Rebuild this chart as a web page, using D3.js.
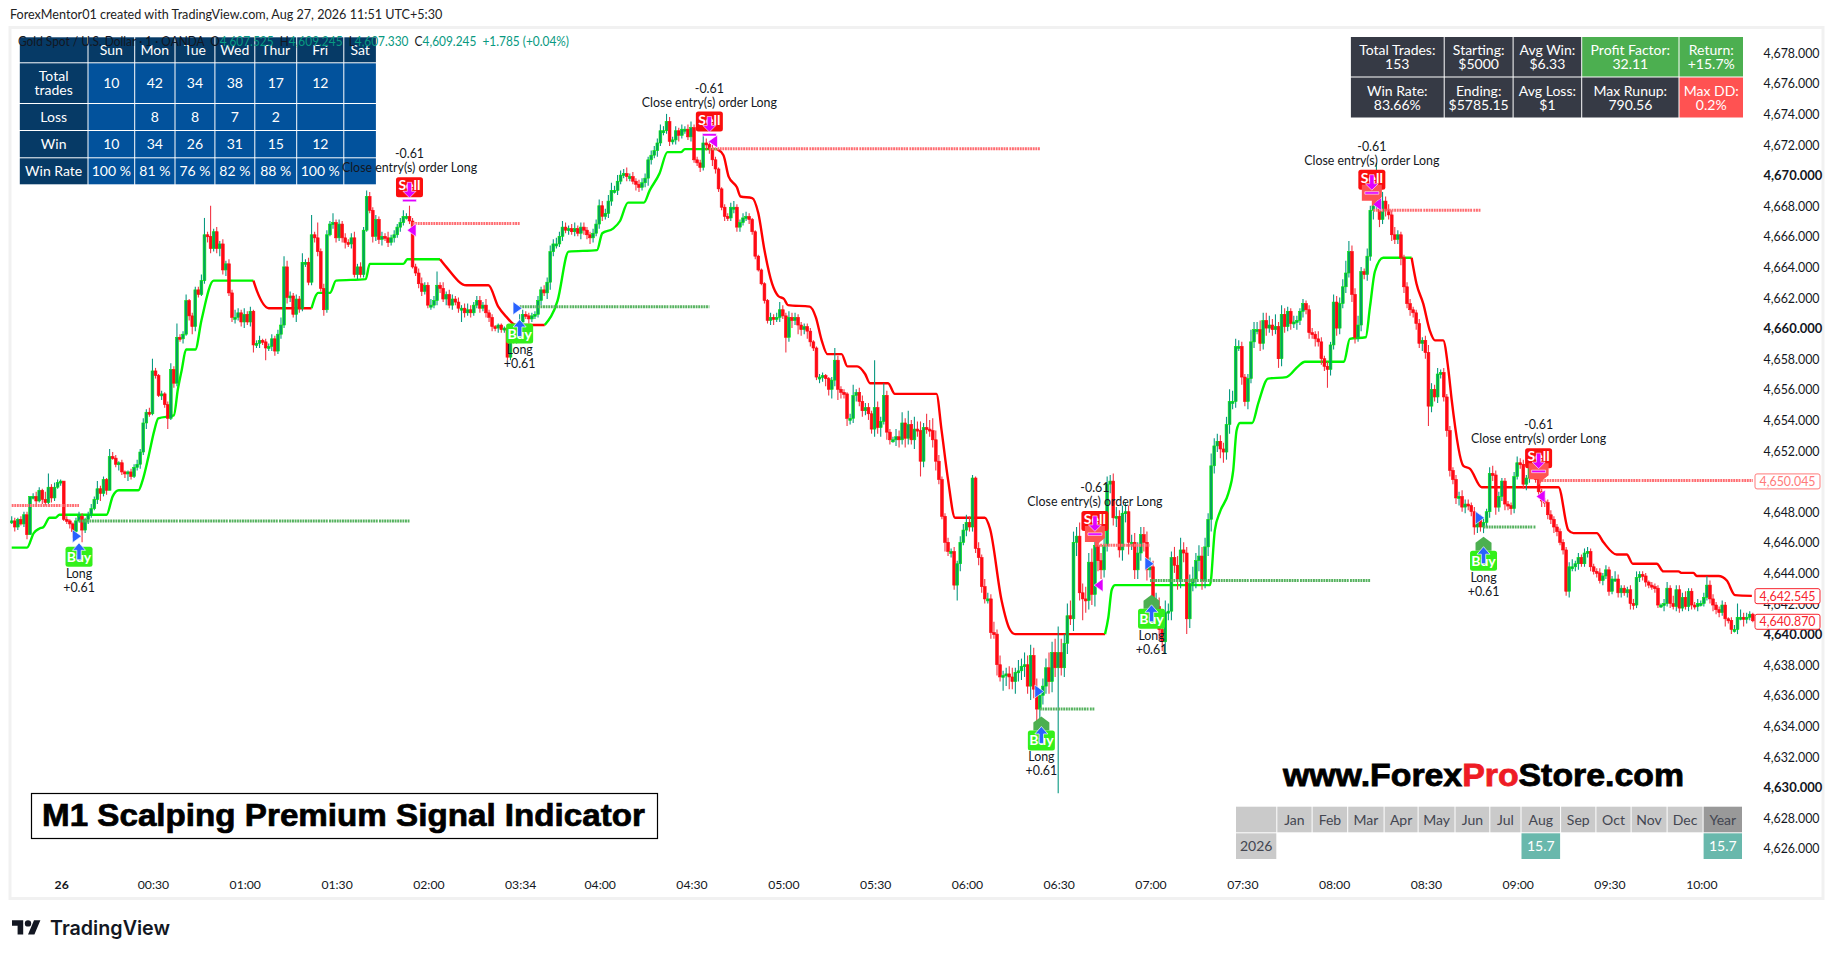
<!DOCTYPE html>
<html>
<head>
<meta charset="utf-8">
<title>M1 Scalping Premium Signal Indicator</title>
<script src="https://cdn.jsdelivr.net/npm/d3@7"></script>
<style>
	html, body { margin: 0; padding: 0; background: #fff; overflow: hidden; }
	text { font-family: Lato, "Noto Sans", sans-serif; }
</style>
</head>
<body>
<svg id="chart" width="1835" height="958"></svg>
<script>
// prices are stored as offset from this base
const basePrice = 4600;

// close of every 1 minute bar, open is taken from the previous close
const closes = [
	47.4,47.0,47.5,47.2,47.8,46.5,49.0,49.0,48.7,49.4,
	48.8,48.6,49.6,48.9,49.6,49.9,50.0,47.5,47.4,47.2,
	46.7,47.4,47.7,46.8,47.5,47.8,48.2,48.8,49.5,49.2,
	50.1,49.4,51.6,51.5,51.1,51.2,50.6,50.5,50.6,50.3,
	50.9,51.1,51.9,53.8,54.5,54.4,57.2,56.9,55.6,55.7,
	55.0,54.1,57.3,56.4,59.4,59.3,59.6,61.8,60.8,60.1,
	62.5,62.2,63.1,66.1,66.0,65.2,66.3,65.2,65.5,63.8,
	64.2,62.3,60.7,60.7,61.0,60.4,60.9,60.4,61.1,58.9,
	59.0,59.2,59.1,58.7,58.8,59.3,58.5,59.6,60.2,64.0,
	62.0,62.1,60.9,61.9,61.3,64.3,64.3,63.0,66.1,65.9,
	65.0,62.6,61.2,66.1,66.8,66.9,65.9,66.8,65.9,65.6,
	65.5,65.9,63.5,64.0,63.5,66.4,68.6,67.7,66.0,67.1,
	65.8,66.0,65.9,65.6,65.9,66.1,66.6,66.9,67.3,67.3,
	67.0,64.0,63.6,62.9,62.4,62.8,61.5,61.5,61.8,62.8,
	62.6,61.9,62.2,61.5,61.9,61.7,61.3,61.3,61.0,61.2,
	61.0,61.5,61.8,61.3,61.5,61.0,60.7,60.1,60.0,60.2,
	59.9,60.0,58.1,59.4,59.2,59.6,60.4,60.9,60.8,60.6,
	60.8,60.9,61.8,62.5,62.3,63.0,65.0,65.5,65.5,66.0,
	66.6,66.4,66.5,66.3,66.5,66.2,66.6,66.4,66.1,65.9,
	66.2,66.8,68.0,67.3,67.5,68.3,69.0,69.0,69.6,70.0,
	70.1,69.9,69.9,69.6,69.4,69.2,69.5,69.8,71.0,71.3,
	71.6,72.1,72.9,72.9,73.5,72.2,72.3,72.9,72.6,73.0,
	73.0,72.5,73.1,71.0,70.8,70.5,72.1,72.0,71.7,71.0,
	70.4,69.1,67.9,67.3,67.2,67.9,67.9,66.6,66.9,67.2,
	67.3,67.1,66.3,64.7,63.8,62.9,61.8,60.5,60.7,60.6,
	60.7,61.2,60.8,59.4,60.7,60.5,60.7,60.2,59.9,60.1,
	59.8,59.1,58.7,56.8,56.8,56.9,56.7,56.0,56.6,57.9,
	56.0,55.8,55.7,54.1,54.1,55.6,55.8,55.2,54.6,54.8,
	54.4,53.4,54.8,53.5,53.9,55.6,53.2,52.7,52.7,52.9,
	52.7,53.8,52.8,53.7,52.7,53.4,53.3,51.3,53.5,53.4,
	53.3,52.7,51.3,50.1,47.7,46.0,45.4,45.4,43.2,44.6,
	46.0,46.8,47.3,47.0,50.2,45.6,45.0,43.1,42.3,42.3,
	40.1,40.0,38.0,37.2,37.3,37.4,37.2,36.9,37.5,37.6,
	37.9,38.0,36.6,38.6,36.4,35.1,36.0,36.6,37.8,36.9,
	38.8,37.8,38.8,37.8,39.4,41.2,41.0,46.0,46.4,42.7,
	42.3,42.2,44.7,42.6,45.8,44.8,44.2,45.8,49.8,50.0,
	47.6,47.7,45.5,47.9,48.0,46.0,46.0,44.2,45.3,46.5,
	46.0,44.2,44.4,41.6,41.8,40.3,39.5,41.4,41.5,45.0,
	44.5,43.6,45.5,45.3,41.0,43.3,43.6,44.8,45.1,43.5,
	45.7,47.5,51.0,52.3,52.6,52.1,51.9,53.7,55.2,55.2,
	58.8,58.8,56.8,55.2,56.7,59.1,59.9,59.9,59.0,60.5,
	60.0,60.2,59.9,60.1,58.0,60.9,60.1,61.1,60.3,60.4,
	60.5,61.1,61.6,61.2,59.7,59.6,59.3,59.1,58.0,57.5,
	57.3,58.9,61.7,60.0,61.6,62.7,63.6,65.0,62.2,59.4,
	60.2,63.7,63.5,64.7,67.7,68.0,69.7,67.1,68.3,67.7,
	67.4,66.1,65.8,66.1,64.6,62.7,61.6,61.2,61.0,60.3,
	59.0,59.2,58.4,54.9,56.0,55.5,57.0,57.1,55.5,53.3,
	50.7,50.1,48.9,49.0,48.3,48.5,48.4,48.0,47.0,47.6,
	47.0,47.3,48.0,50.5,50.4,48.3,49.0,50.0,48.5,48.4,
	48.2,50.3,51.2,51.1,49.8,50.2,51.3,50.5,50.1,49.3,
	48.7,48.6,47.8,47.5,47.0,46.7,46.0,45.5,42.8,44.4,
	44.4,44.6,45.0,44.6,45.3,45.4,44.4,44.1,44.0,43.5,
	43.8,44.2,42.8,43.6,43.6,42.7,43.0,42.7,42.9,42.0,
	41.9,43.7,43.9,43.8,43.4,43.2,43.1,43.0,41.9,41.9,
	42.0,43.0,42.0,41.8,42.9,41.7,42.4,41.8,42.8,41.9,
	41.8,42.0,42.0,42.4,43.2,42.3,41.9,41.6,41.4,41.9,
	41.0,40.9,40.3,40.3,41.1,41.1,41.0,41.1,41.3,40.87
];
// upper and lower wick length per bar, in tenths of a dollar
const wickUp = [
	3,2,1,2,2,2,0,2,3,2, 1,5,9,2,3,2,1,0,2,1, 1,2,3,2,1,2,3,2,5,2, 2,1,5,3,2,1,2,1,1,2,
	2,3,2,3,2,3,8,2,1,2, 1,2,4,2,9,2,2,4,1,2, 2,2,4,11,2,20,2,3,2,3, 2,3,2,5,3,2,4,2,3,1,
	2,3,1,2,2,3,2,3,5,7, 4,3,2,3,2,6,2,3,13,2, 10,2,3,3,2,6,2,3,2,3, 2,3,4,2,3,2,4,3,2,3,
	2,3,2,4,2,3,2,3,4,2, 7,2,2,3,4,2,2,4,3,9, 2,4,2,3,3,2,3,2,3,4, 3,2,3,3,2,4,2,2,1,1,
	1,1,2,2,3,2,5,3,2,2, 2,2,3,2,3,3,4,3,4,3, 4,3,2,3,4,2,3,3,2,2, 3,3,4,3,3,4,5,3,4,3,
	3,4,2,3,2,3,3,3,2,3, 3,3,4,3,5,3,2,3,2,3, 2,3,4,2,2,2,5,3,2,3, 2,1,1,2,2,3,4,2,2,3,
	3,2,1,1,1,1,1,1,3,2, 3,5,3,2,4,3,3,2,2,2, 2,2,1,1,2,2,1,1,2,8, 3,2,2,1,3,7,2,3,4,3,
	3,2,31,4,3,8,3,2,2,5, 4,7,3,9,3,8,5,6,3,9, 6,8,6,4,2,2,3,2,3,2, 4,4,5,4,2,1,4,2,5,4,
	3,7,3,6,3,4,5,6,3,7, 5,8,6,7,5,7,4,5,6,10, 7,9,17,9,6,8,10,7,6,9, 6,8,6,9,7,8,5,6,5,4,
	5,6,4,5,6,4,5,6,7,5, 5,7,6,4,9,6,5,8,5,4, 7,6,8,5,4,6,8,5,7,6, 6,4,8,5,5,4,4,5,8,7,
	5,4,3,2,3,8,5,5,6,5, 5,6,4,8,3,6,4,3,2,4, 3,2,3,2,3,3,2,5,3,2, 3,2,5,4,4,5,8,7,4,4,
	6,3,2,5,3,5,11,4,6,3, 4,3,5,3,2,2,3,3,2,2, 3,2,3,5,4,3,4,2,3,2, 3,2,3,3,4,3,3,2,3,2,
	2,3,2,4,5,3,3,2,2,2, 2,3,4,3,3,2,3,4,3,2, 2,2,2,3,2,2,2,2,2,3, 5,2,3,2,3,3,2,2,2,3,
	2,3,2,2,5,3,2,2,2,3, 3,4,2,2,2,1,2,2,2,1, 3,4,2,5,3,3,3,4,2,2, 2,3,2,3,6,3,3,2,2,3,
	2,1,2,3,9,5,3,3,2,1
];
const wickDown = [
	2,3,2,1,2,3,0,2,2,1, 3,2,1,3,2,1,2,1,2,3, 4,2,1,8,2,3,2,1,3,5, 2,3,0,1,2,4,2,3,5,2,
	1,2,3,2,4,2,1,2,1,3, 2,7,1,3,2,2,3,1,3,5, 3,2,1,2,4,3,2,3,5,3, 4,2,3,4,2,3,4,2,3,5,
	2,3,2,8,2,3,3,2,3,2, 4,3,2,5,3,2,3,2,2,3, 3,2,4,2,1,3,3,2,3,4, 2,3,2,3,2,2,1,2,4,3,
	3,4,2,3,2,3,2,3,2,2, 2,1,2,3,3,2,2,3,2,3, 3,2,4,2,3,2,3,9,3,2, 3,2,2,3,2,3,3,3,2,3,
	2,2,2,2,2,2,2,3,2,3, 2,2,2,3,2,4,5,3,3,2, 3,2,3,2,3,2,4,3,3,4, 3,2,3,3,2,3,3,2,3,2,
	2,3,3,2,4,3,2,3,5,3, 2,4,2,3,2,3,2,3,4,2, 3,2,3,2,2,3,2,4,3,4, 3,2,2,3,2,2,4,3,3,2,
	2,3,2,2,1,1,2,2,3,4, 2,3,2,10,3,5,3,6,4,3, 5,3,2,2,4,3,5,4,6,4, 7,4,3,5,4,3,4,3,4,3,
	4,3,5,4,6,2,5,3,2,4, 5,3,6,4,3,6,4,10,4,3, 4,5,6,3,2,6,3,4,3,10, 5,2,4,3,3,3,5,4,3,3,
	4,3,7,3,9,7,8,5,8,6, 6,7,5,9,6,13,7,6,5,8, 7,6,82,5,6,7,4,8,9,5, 14,8,6,7,8,7,6,5,4,6,
	5,6,5,7,6,8,5,6,6,5, 6,7,5,9,7,6,6,8,5,6, 5,7,6,6,10,6,5,6,7,6, 5,6,8,5,4,6,7,5,6,5,
	4,3,5,3,5,3,4,3,5,4, 5,3,4,3,6,5,4,3,4,3, 5,3,4,3,4,3,5,3,4,3, 12,4,3,5,4,3,4,3,5,4,
	3,4,3,4,3,6,2,5,3,4, 3,4,3,3,5,4,3,4,3,4, 3,5,4,13,4,3,4,3,3,4, 4,3,4,5,3,4,3,3,5,4,
	3,4,3,4,4,5,3,3,4,3, 4,3,2,3,3,4,3,3,2,3, 4,3,3,3,4,3,2,3,3,4, 3,3,4,2,2,3,3,2,3,2,
	3,2,3,2,2,3,3,2,3,4, 3,2,3,3,3,2,2,3,2,2, 4,2,3,2,3,3,2,2,3,3, 2,3,2,2,2,3,4,3,3,2,
	5,2,3,2,3,2,5,3,2,1
];

// trailing stop line, read as bar / price pairs
const trendBars = [0,5,7.2,9.1,10.4,12.4,14.3,15.6,31,33,35,41.4,42.7,44.7,46.6,47.9,53,54.3,55.6,57,60,62,66,79,80.2,84,98,100.2,104,106,115.7,117,128,129.3,140,142,148.6,155.8,159,161.6,164.8,174.2,178.4,182,191.3,193,196.5,198.8,201.4,206.6,208.5,211.7,214.3,218.8,220,230.5,232.6,234.3,237,238.2,242,244,246,248.5,250.5,252.4,253.7,260.8,262.8,264.7,266.6,271.2,273.1,276.3,278.9,280.5,286.4,288.6,302.2,303.9,306,308.3,318,319.7,323.5,326.2,327.9,357.3,358.4,359.5,360.6,391.6,393.2,394.9,397.6,399.2,400.3,401.4,405.4,407.4,410.6,416.6,420.4,422.6,435.4,437.3,442.5,443.9,445.5,448.2,457.5,459.1,461.3,463.5,465.1,467.8,469.5,470.6,474.4,476.6,480.4,505.5,508.7,510.4,518,520.2,524.5,527.8,529.8,537.6,539.8,544.7,545.8,549.6,550.7,557.8,560.5,563.2,568.7];
const trendPrices = [45.65,45.65,46.6,46.9,47,47.6,47.6,47.8,47.8,49,49.4,49.4,50,51.6,53.3,54.1,54.3,56,57.3,58.6,58.6,60.5,63.1,63.1,62.4,61.3,61.3,62.3,62.3,63.1,63.2,64.2,64.2,64.5,64.5,64,62.8,62.8,61.4,60.75,60.2,60.2,61.8,65,65.1,66.2,66.5,67,68.2,68.2,69,70.1,71.5,71.5,71.7,71.7,71.3,69.9,69.2,68.6,68.5,67.5,65.1,62.9,62.1,61.9,61.5,61.4,60.7,59.2,58.3,58.3,57.5,57.5,57,56.4,56.4,55.7,55.7,53.3,50.1,47.6,47.6,46.9,42.2,40.3,40,40,41.1,42.9,43.2,43.2,46.8,48,49.2,50.7,53.3,53.8,53.8,55.1,56.7,56.8,57.5,57.8,57.8,59.3,59.4,61.4,63.7,64.6,64.6,62.9,61.6,59.8,59.2,59.2,57.3,55.3,51,50.8,49.6,49.6,46.8,46.6,46.6,46,45.2,45.2,44.6,44.6,44.1,44.1,44,44,43.8,43.8,43.5,42.55,42.5];
// bars where the line flips colour, first run is green
const trendFlips = [79,98,140,174.2,230.5,357.3,457.5];

// dotted stop levels
const greenLevelStart = [22,166,336,372,481];
const greenLevelEnd = [130,228,354,444,498];
const greenLevelPrice = [47.4,61.4,35.1,43.5,47.0];
const redLevelStart = [0,131,228,354,445,500];
const redLevelEnd = [22,166,336,372,480,569];
const redLevelPrice = [48.4,66.84,71.73,45.8,67.7,50.045];

// trades
const buyBars = [22,166,336.5,372.5,481];
const buyLabelPrices = [45.05,59.65,33.05,41.0,44.8];
const buyFlag = [false,false,true,true,true];
const buyTriangleBars = [21,165,335.5,371.5,479.5];
const buyTrianglePrices = [46.4,61.3,36.25,44.6,47.6];
const sellBars = [130,228,354,444.5,499];
const sellLabelPrices = [69.2,73.5,47.4,69.7,51.5];
const sellFlag = [false,false,true,true,true];
const sellTriangleBars = [131,229.5,355.5,446.5,500];
const sellTrianglePrices = [66.4,72.2,43.2,68.1,49.0];

// axis
const yTicks = d3.range(4626, 4680, 2);
const boldYTicks = [4630,4640,4660,4670];
const xTickBars = [16,46,76,106,136,166,192,222,252,282,312,342,372,402,432,462,492,522,552];
const xTickLabels = ["26","00:30","01:00","01:30","02:00","03:34","04:00","04:30","05:00","05:30","06:00","06:30","07:00","07:30","08:00","08:30","09:00","09:30","10:00"];
const tagPrices = [4650.045,4642.545,4640.870];
const tagColors = ["#ff7a7a","#f7252f","#f7252f"];

// weekday table
const weekdays = ["Sun","Mon","Tue","Wed","Thur","Fri","Sat"];
const weekRows = ["Total trades","Loss","Win","Win Rate"];
const weekTotal = ["10","42","34","38","17","12",""];
const weekLoss = ["","8","8","7","2","",""];
const weekWin = ["10","34","26","31","15","12",""];
const weekRate = ["100 %","81 %","76 %","82 %","88 %","100 %",""];

// stats table
const statLabels = [["Total Trades:","Starting:","Avg Win:","Profit Factor:","Return:"],["Win Rate:","Ending:","Avg Loss:","Max Runup:","Max DD:"]];
const statValues = [["153","$5000","$6.33","32.11","+15.7%"],["83.66%","$5785.15","$1","790.56","0.2%"]];

// monthly table
const months = ["Jan","Feb","Mar","Apr","May","Jun","Jul","Aug","Sep","Oct","Nov","Dec","Year"];
const monthReturns = ["","","","","","","","15.7","","","","","15.7"];
const returnYear = "2026";

const UP_WICK = "#089981";
const UP_BODY = "#05a060";
const UP_EDGE = "#00f000";
const DOWN_WICK = "#f23645";
const DOWN_BODY = "#ff0a14";
const LIME = "#00f500";
const RED = "#ff0000";

const svg = d3.select("#chart");

const x = d3.scaleLinear().domain([0, 569]).range([11.7, 1752.8]);
const y = d3.scaleLinear().domain([4678, 4626]).range([52.7, 848.3]);
const py = (offset) => y(basePrice + offset);

const bars = closes.map((close, i) => {
	const open = i === 0 ? close : closes[i - 1];
	return {
		i,
		open,
		close,
		high: Math.max(open, close) + (wickUp[i] || 0) / 10,
		low: Math.min(open, close) - (wickDown[i] || 0) / 10,
	};
});

// page frame
svg.append("text").attr("x", 10).attr("y", 19).attr("font-size", 12.6).attr("fill", "#222").text("ForexMentor01 created with TradingView.com, Aug 27, 2026 11:51 UTC+5:30");
svg.append("rect").attr("x", 10).attr("y", 27.5).attr("width", 1813).attr("height", 871).attr("fill", "#fff").attr("stroke", "#f1f1f1").attr("stroke-width", 3);

function drawTable(g, xs, ys, cells) {
	const cell = g.selectAll("g").data(cells).join("g");
	cell.append("rect")
		.attr("x", (d) => xs[d.c])
		.attr("y", (d) => ys[d.r])
		.attr("width", (d) => xs[d.c + 1] - xs[d.c] - 1)
		.attr("height", (d) => ys[d.r + 1] - ys[d.r] - 1)
		.attr("fill", (d) => d.fill);
	cell.each(function (d) {
		const lines = d.lines.filter((l) => l !== "");
		const cx = (xs[d.c] + xs[d.c + 1] - 1) / 2;
		const cy = (ys[d.r] + ys[d.r + 1] - 1) / 2;
		lines.forEach((line, n) => {
			d3.select(this).append("text")
				.attr("x", cx)
				.attr("y", cy + (n - (lines.length - 1) / 2) * d.lineGap)
				.attr("dy", "0.36em")
				.attr("text-anchor", "middle")
				.attr("font-size", d.size)
				.attr("fill", d.color)
				.text(line);
		});
	});
}

// weekday table
const weekXs = [19.8, 88.5, 135.2, 175.5, 215.4, 255.3, 297.2, 344.3, 376.9];
const weekYs = [37.3, 63.3, 104, 131, 158.3, 185.3];
const NAVY = "#063a66";
const BLUE = "#02529c";
const weekCells = [{ c: 0, r: 0, lines: [""], fill: NAVY, color: "#fff", size: 14, lineGap: 14 }];
weekdays.forEach((d, c) => weekCells.push({ c: c + 1, r: 0, lines: [d], fill: NAVY, color: "#fff", size: 14, lineGap: 14 }));
[["Total", "trades"], ["Loss"], ["Win"], ["Win Rate"]].forEach((lines, r) => weekCells.push({ c: 0, r: r + 1, lines, fill: NAVY, color: "#fff", size: 14, lineGap: 14 }));
[weekTotal, weekLoss, weekWin, weekRate].forEach((row, r) => {
	row.forEach((v, c) => weekCells.push({ c: c + 1, r: r + 1, lines: [v], fill: BLUE, color: "#fff", size: 14, lineGap: 14 }));
});
drawTable(svg.append("g"), weekXs, weekYs, weekCells);

// stats table
const statXs = [1350.9, 1444.7, 1513.6, 1582.2, 1679.5, 1744];
const statYs = [37, 77.5, 118.5];
const statFill = (r, c) => {
	if (r === 0 && c >= 3) return "#4caf50";
	if (r === 1 && c === 4) return "#ff5252";
	return "#363a45";
};
const statCells = [];
statLabels.forEach((row, r) => row.forEach((label, c) => {
	statCells.push({ c, r, lines: [label, statValues[r][c]], fill: statFill(r, c), color: "#fff", size: 14, lineGap: 14 });
}));
drawTable(svg.append("g"), statXs, statYs, statCells);

// monthly table
const monthXs = [1236, 1277.3, 1312.6, 1348.2, 1384.6, 1418.6, 1455.5, 1490.3, 1521.5, 1561.1, 1596.4, 1631.6, 1667.6, 1703.6, 1743];
const monthYs = [806.7, 833.3, 860];
const monthCells = [{ c: 0, r: 0, lines: [""], fill: "#cacaca", color: "#434651", size: 14, lineGap: 14 },
	{ c: 0, r: 1, lines: [returnYear], fill: "#cacaca", color: "#434651", size: 14, lineGap: 14 }];
months.forEach((m, c) => {
	monthCells.push({ c: c + 1, r: 0, lines: [m], fill: m === "Year" ? "#999999" : "#cacaca", color: "#434651", size: 14, lineGap: 14 });
	if (monthReturns[c]) monthCells.push({ c: c + 1, r: 1, lines: [monthReturns[c]], fill: "#69b8ac", color: "#fff", size: 14, lineGap: 14 });
});
drawTable(svg.append("g"), monthXs, monthYs, monthCells);

// trailing line, one path per colour run
const trendLine = d3.line().x((d) => x(d.bar)).y((d) => py(d.price)).curve(d3.curveMonotoneX);
const trendPoints = trendBars.map((bar, n) => ({ bar, price: trendPrices[n] }));
const runEdges = [0, ...trendFlips, 569];
svg.append("g").selectAll("path")
	.data(d3.pairs(runEdges))
	.join("path")
	.attr("d", ([from, to]) => trendLine(trendPoints.filter((p) => p.bar >= from && p.bar <= to)))
	.attr("fill", "none")
	.attr("stroke", (d, n) => (n % 2 === 0 ? LIME : RED))
	.attr("stroke-width", 2.4)
	.attr("stroke-linejoin", "round");

// candles
const candles = svg.append("g").selectAll("g").data(bars).join("g");
candles.append("line")
	.attr("x1", (d) => x(d.i)).attr("x2", (d) => x(d.i))
	.attr("y1", (d) => py(d.high)).attr("y2", (d) => py(d.low))
	.attr("stroke", (d) => (d.close >= d.open ? UP_WICK : DOWN_WICK))
	.attr("stroke-width", 1.1);
candles.append("rect")
	.attr("x", (d) => x(d.i) - 1.4)
	.attr("width", 2.8)
	.attr("y", (d) => py(Math.max(d.open, d.close)))
	.attr("height", (d) => Math.max(2, Math.abs(py(d.open) - py(d.close))))
	.attr("fill", (d) => (d.close >= d.open ? UP_BODY : DOWN_BODY))
	.attr("stroke", (d) => (d.close >= d.open ? UP_EDGE : DOWN_BODY))
	.attr("stroke-width", 0.6);

// dotted levels, the dots come in blocks of about 48px
const dotBlock = [...d3.range(18).flatMap(() => [1.9, 0.7]), 1.9, 1.3].join(" ");
function drawLevels(starts, ends, prices, color) {
	svg.append("g").selectAll("line")
		.data(starts)
		.join("line")
		.attr("x1", (d) => x(d))
		.attr("x2", (d, n) => x(ends[n]))
		.attr("y1", (d, n) => py(prices[n]))
		.attr("y2", (d, n) => py(prices[n]))
		.attr("stroke", color)
		.attr("stroke-width", 3)
		.attr("stroke-dasharray", dotBlock);
}
drawLevels(greenLevelStart, greenLevelEnd, greenLevelPrice, "#56b25f");
drawLevels(redLevelStart, redLevelEnd, redLevelPrice, "#ff6d72");

// direction triangles
svg.append("g").selectAll("path")
	.data(buyTriangleBars)
	.join("path")
	.attr("transform", (d, n) => `translate(${x(d)},${py(buyTrianglePrices[n])})`)
	.attr("d", "M-3.5,-6.5 L5.5,0 L-3.5,6.5 Z")
	.attr("fill", "#2962ff")
	.attr("stroke", "#fff")
	.attr("stroke-width", 0.6);
svg.append("g").selectAll("path")
	.data(sellTriangleBars)
	.join("path")
	.attr("transform", (d, n) => `translate(${x(d)},${py(sellTrianglePrices[n])})`)
	.attr("d", "M3.5,-6.5 L-5.5,0 L3.5,6.5 Z")
	.attr("fill", "#e000ff")
	.attr("stroke", "#fff")
	.attr("stroke-width", 0.6);

const TEXT_SIZE = 12.4;

// buy markers
const buyMarks = svg.append("g").selectAll("g").data(buyBars).join("g")
	.attr("transform", (d, n) => `translate(${x(d)},${py(buyLabelPrices[n])})`);
buyMarks.filter((d, n) => buyFlag[n]).append("path")
	.attr("d", "M-8,-10 L-8,-18 L0,-24 L8,-18 L8,-10 Z")
	.attr("fill", "#4caf50");
buyMarks.append("rect").attr("x", -13.5).attr("y", -10).attr("width", 27).attr("height", 20).attr("rx", 2.5).attr("fill", "#33f01a");
buyMarks.append("text").attr("text-anchor", "middle").attr("dy", "0.36em").attr("font-size", 14).attr("font-weight", 700).attr("fill", "#fff").text("Buy");
buyMarks.append("path")
	.attr("d", "M0,-14 L6.5,-6.5 L2.2,-6.5 L2.2,3 L-2.2,3 L-2.2,-6.5 L-6.5,-6.5 Z")
	.attr("fill", "#2962ff").attr("stroke", "#fff").attr("stroke-width", 0.7);
buyMarks.append("text").attr("text-anchor", "middle").attr("y", 21).attr("font-size", TEXT_SIZE).attr("fill", "#131722").text("Long");
buyMarks.append("text").attr("text-anchor", "middle").attr("y", 35).attr("font-size", TEXT_SIZE).attr("fill", "#131722").text("+0.61");

// sell markers
const sellMarks = svg.append("g").selectAll("g").data(sellBars).join("g")
	.attr("transform", (d, n) => `translate(${x(d)},${py(sellLabelPrices[n])})`);
sellMarks.append("rect").attr("x", -13.5).attr("y", -10).attr("width", 27).attr("height", 20).attr("rx", 2.5).attr("fill", "#fb0e0e");
sellMarks.filter((d, n) => sellFlag[n]).append("path")
	.attr("d", "M-10,5 L10,5 L10,17 L5,21 L0,27 L0,21 L-10,21 Z")
	.attr("fill", "#ff5252");
sellMarks.append("text").attr("text-anchor", "middle").attr("dy", "0.36em").attr("y", -2).attr("font-size", 14).attr("font-weight", 700).attr("fill", "#fff").text("Sell");
sellMarks.append("path")
	.attr("d", "M-2.2,-5 L2.2,-5 L2.2,4 L6.5,4 L0,10.5 L-6.5,4 L-2.2,4 Z M-7,12 L7,12 L7,14.5 L-7,14.5 Z")
	.attr("fill", "#e000ff").attr("stroke", "#fff").attr("stroke-width", 0.6);
sellMarks.append("text").attr("text-anchor", "middle").attr("y", -15).attr("font-size", TEXT_SIZE).attr("fill", "#131722").text("Close entry(s) order Long");
sellMarks.append("text").attr("text-anchor", "middle").attr("y", -29).attr("font-size", TEXT_SIZE).attr("fill", "#131722").text("-0.61");

// price axis
const yAxis = svg.append("g")
	.attr("transform", "translate(1763.5,0.6)")
	.call(d3.axisRight(y).tickValues(yTicks).tickSize(0).tickPadding(0).tickFormat(d3.format(",.3f")));
yAxis.select(".domain").remove();
yAxis.selectAll("text")
	.attr("font-family", "Lato, 'Noto Sans', sans-serif")
	.attr("font-size", (d) => (boldYTicks.includes(d) ? 13 : 12.4))
	.attr("font-weight", (d) => (boldYTicks.includes(d) ? 700 : 400))
	.attr("fill", "#131722");

// time axis
const xAxis = svg.append("g")
	.attr("transform", "translate(0.5,880.5)")
	.call(d3.axisBottom(x).tickValues(xTickBars).tickSize(0).tickPadding(0).tickFormat((d, n) => xTickLabels[n]));
xAxis.select(".domain").remove();
xAxis.selectAll("text")
	.attr("font-family", "Lato, 'Noto Sans', sans-serif")
	.attr("font-size", 12.2)
	.attr("font-weight", (d) => (d === 16 ? 700 : 400))
	.attr("fill", "#131722");

// last value tags
const tags = svg.append("g").selectAll("g").data(tagPrices).join("g")
	.attr("transform", (d) => `translate(1755,${y(d) + 1})`);
tags.append("rect").attr("y", -7.5).attr("width", 65).attr("height", 15).attr("rx", 2).attr("fill", "#fff").attr("stroke", (d, n) => tagColors[n]);
tags.append("text").attr("x", 32.5).attr("dy", "0.36em").attr("text-anchor", "middle").attr("font-size", 12.4).attr("fill", (d, n) => tagColors[n]).text(d3.format(",.3f"));

// symbol legend, sits on top of the weekday table
const legend = svg.append("text").attr("x", 18).attr("y", 46).attr("font-size", 13).attr("textLength", 551).attr("lengthAdjust", "spacingAndGlyphs").style("white-space", "pre");
[["Gold Spot / U.S. Dollar · 1 · OANDA  O", "#131722"], ["4,607.525", UP_WICK], ["  H", "#131722"], ["4,609.245", UP_WICK], ["  L", "#131722"], ["4,607.330", UP_WICK], ["  C", "#131722"], ["4,609.245  +1.785 (+0.04%)", UP_WICK]]
	.forEach(([part, color]) => legend.append("tspan").attr("fill", color).text(part));

// promo texts
const promo = svg.append("text").attr("x", 1283).attr("y", 786).attr("font-size", 31).attr("font-weight", 700).attr("stroke-width", 0.8).attr("textLength", 401).attr("lengthAdjust", "spacingAndGlyphs").style("font-family", "'Liberation Sans', Arial, sans-serif");
promo.append("tspan").attr("fill", "#000").attr("stroke", "#000").text("www.Forex");
promo.append("tspan").attr("fill", "#ee1c25").attr("stroke", "#ee1c25").text("Pro");
promo.append("tspan").attr("fill", "#000").attr("stroke", "#000").text("Store.com");

svg.append("rect").attr("x", 31.5).attr("y", 793.5).attr("width", 626).attr("height", 45).attr("fill", "#fff").attr("stroke", "#000").attr("stroke-width", 1.2);
svg.append("text").attr("x", 42).attr("y", 826).attr("font-size", 31).attr("font-weight", 700).attr("stroke", "#000").attr("stroke-width", 0.7).attr("textLength", 603).attr("lengthAdjust", "spacingAndGlyphs").style("font-family", "'Liberation Sans', Arial, sans-serif").text("M1 Scalping Premium Signal Indicator");

// TradingView footer
const logo = svg.append("g").attr("transform", "translate(12,917) scale(0.8)");
logo.append("path").attr("d", "M14 22H7V11H0V4h14v18zM28 22h-8l7.5-18h8L28 22z").attr("fill", "#131722");
logo.append("circle").attr("cx", 20).attr("cy", 8).attr("r", 4).attr("fill", "#131722");
svg.append("text").attr("x", 50).attr("y", 935).attr("font-size", 20).attr("font-weight", 600).attr("fill", "#131722").attr("textLength", 120).attr("lengthAdjust", "spacingAndGlyphs").style("font-family", "Inter, Lato, sans-serif").text("TradingView");
</script>
</body>
</html>
